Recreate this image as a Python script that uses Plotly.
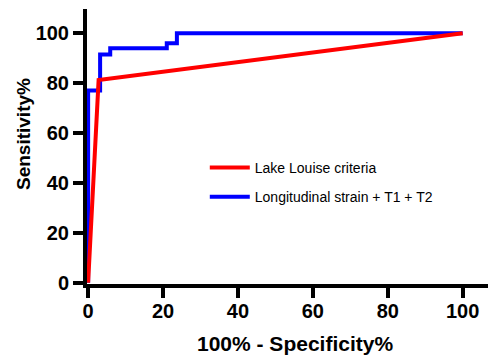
import plotly.graph_objects as go

# ROC data (100% - Specificity%, Sensitivity%)
ll_x = [0, 2.8, 100]
ll_y = [0, 81.2, 100]
ls_x = [0, 0, 3.2, 3.2, 5.9, 5.9, 21.0, 21.0, 23.7, 23.7, 100]
ls_y = [0, 77, 77, 91.5, 91.5, 94, 94, 96, 96, 100, 100]
ll_name = "Lake Louise criteria"
ls_name = "Longitudinal strain + T1 + T2"
tick_vals = [0, 20, 40, 60, 80, 100]

fig = go.Figure()
fig.add_trace(go.Scatter(x=ls_x, y=ls_y, mode="lines", name=ls_name, legendgroup="b", legendrank=2,
                         line=dict(color="#0000FF", width=4)))
fig.add_trace(go.Scatter(x=ll_x, y=ll_y, mode="lines", name=ll_name, legendgroup="a", legendrank=1,
                         line=dict(color="#FF0000", width=4)))

tickfont = dict(family="Liberation Sans, Arial, sans-serif", size=20, color="black", weight="bold")
fig.update_layout(
    template="none",
    width=488, height=352,
    margin=dict(l=79, r=0, t=1, b=76, autoexpand=False),
    plot_bgcolor="white", paper_bgcolor="white",
    showlegend=True,
    legend=dict(x=0.288, y=0.48, xanchor="left", yanchor="top",
                traceorder="grouped", tracegroupgap=8,
                bgcolor="rgba(0,0,0,0)", borderwidth=0, itemwidth=40,
                font=dict(family="Liberation Sans, Arial, sans-serif", size=14, color="black")),
    xaxis=dict(range=[-0.3, 108.9], tickvals=tick_vals, ticks="outside", ticklen=10, tickwidth=4,
               tickcolor="black", showline=True, linecolor="black", linewidth=4, automargin=False,
               showgrid=False, zeroline=False, tickfont=tickfont, layer="below traces",
               ticklabelstandoff=-4),
    yaxis=dict(range=[-0.5, 109.7], tickvals=tick_vals, ticks="outside", ticklen=10, tickwidth=4,
               tickcolor="black", showline=True, linecolor="black", linewidth=4, automargin=False,
               showgrid=False, zeroline=False, tickfont=tickfont, layer="below traces"),
    annotations=[
        dict(text="100% - Specificity%", xref="paper", yref="paper", x=(295 - 87) / 409, y=(284 - 343) / 275,
             xanchor="center", yanchor="middle", showarrow=False,
             font=dict(family="Liberation Sans, Arial, sans-serif", size=21, color="black", weight="bold")),
        dict(text="Sensitivity%", xref="paper", yref="paper", x=(23 - 87) / 409, y=(284 - 134) / 275,
             xanchor="center", yanchor="middle", showarrow=False, textangle=-90,
             font=dict(family="Liberation Sans, Arial, sans-serif", size=19, color="black", weight="bold")),
    ],
)

fig.write_html("out.html")
